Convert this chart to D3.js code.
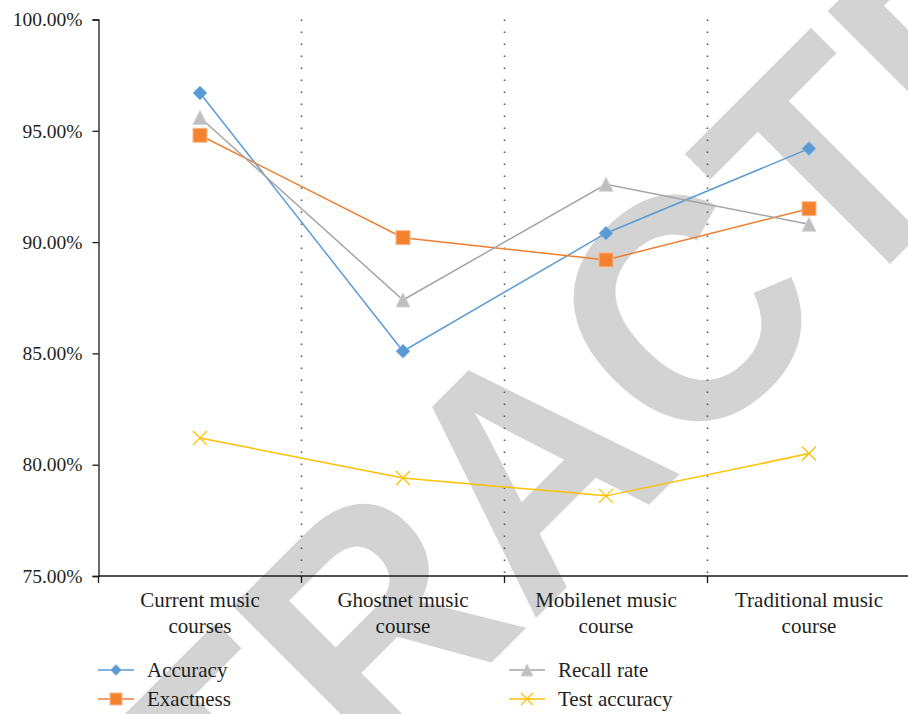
<!DOCTYPE html>
<html>
<head>
<meta charset="utf-8">
<script src="https://cdn.jsdelivr.net/npm/d3@7"></script>
<style>
  html, body { margin: 0; padding: 0; background: #fff; }
  svg { display: block; }
  text { font-family: "Liberation Serif", "Times New Roman", serif; fill: #231f20; }
</style>
</head>
<body>
<svg id="chart" width="908" height="714"></svg>
<script>
// Course categories (two-line labels)
const categories = [
  ["Current music", "courses"],
  ["Ghostnet music", "course"],
  ["Mobilenet music", "course"],
  ["Traditional music", "course"]
];
const categoryKeys = categories.map(c => c.join(" "));

// Series values (percent)
const accuracy     = [96.7, 85.1, 90.4, 94.2];
const exactness    = [94.8, 90.2, 89.2, 91.5];
const recallRate   = [95.6, 87.4, 92.6, 90.8];
const testAccuracy = [81.2, 79.4, 78.6, 80.5];

// Y axis ticks
const yTicks = [75, 80, 85, 90, 95, 100];

const seriesNames = ["Accuracy", "Exactness", "Recall rate", "Test accuracy"];
const seriesValues = [accuracy, exactness, recallRate, testAccuracy];

const styles = {
  "Accuracy":      { line: "#5b9bd5", fill: "#5b9bd5", stroke: "#8fbbe3", marker: "diamond" },
  "Exactness":     { line: "#ed7d31", fill: "#f5822f", stroke: "#f9b88e", marker: "square" },
  "Recall rate":   { line: "#a5a5a5", fill: "#bfbfbf", stroke: "#d0d0d0", marker: "triangle" },
  "Test accuracy": { line: "#ffc000", fill: "none",    stroke: "#ffc000", marker: "cross" }
};

const svg = d3.select("#chart");

// Watermark sits behind the plot
svg.append("text")
  .attr("transform", "translate(608,546) rotate(-45) scale(0.935,1)")
  .attr("text-anchor", "middle")
  .style("font-family", "'Liberation Sans', Arial, sans-serif")
  .style("font-weight", "bold")
  .style("font-size", "324px")
  .style("fill", "#d3d3d3")
  .text("RETRACTED");

const plot = { left: 98.5, right: 910.5, top: 19.5, bottom: 576 };

const x = d3.scaleBand().domain(categoryKeys).range([plot.left, plot.right]).padding(0);
const y = d3.scaleLinear().domain([75, 100]).range([plot.bottom, plot.top]);

// Dotted separators between categories
const boundaries = categoryKeys.slice(1).map(k => x(k));
svg.append("g").selectAll("line")
  .data(boundaries)
  .join("line")
  .attr("x1", d => d).attr("x2", d => d)
  .attr("y1", plot.top).attr("y2", plot.bottom)
  .attr("stroke", "#595959")
  .attr("stroke-width", 1.6)
  .attr("stroke-dasharray", "1.6,10.4");

// Y axis
const yAxis = d3.axisLeft(y)
  .tickValues(yTicks)
  .tickSize(6)
  .tickPadding(10)
  .tickFormat(d => d.toFixed(2) + "%");
const gy = svg.append("g").attr("transform", `translate(${plot.left},0)`).call(yAxis);
gy.select(".domain").attr("stroke", "#1a1a1a").attr("stroke-width", 1.3);
gy.selectAll(".tick line").attr("stroke", "#1a1a1a").attr("stroke-width", 1.3);
gy.selectAll(".tick text")
  .style("font-family", "'Liberation Serif', serif")
  .style("font-size", "19.5px")
  .attr("fill", "#231f20");

// X axis: ticks on category boundaries
const xBoundaryTicks = categoryKeys.map(k => x(k)).concat([plot.right]);
const gx = svg.append("g").attr("transform", `translate(0,${plot.bottom})`);
gx.append("line")
  .attr("x1", plot.left).attr("x2", plot.right)
  .attr("y1", 0).attr("y2", 0)
  .attr("stroke", "#1a1a1a").attr("stroke-width", 1.3);
gx.selectAll(".btick")
  .data(xBoundaryTicks)
  .join("line")
  .attr("class", "btick")
  .attr("x1", d => d).attr("x2", d => d)
  .attr("y1", 0).attr("y2", 7)
  .attr("stroke", "#1a1a1a").attr("stroke-width", 1.3);

const labels = gx.selectAll(".clabel")
  .data(categories)
  .join("text")
  .attr("class", "clabel")
  .attr("text-anchor", "middle")
  .style("font-size", "21px")
  .attr("transform", (d, i) => `translate(${x(categoryKeys[i]) + x.bandwidth() / 2},0)`);
labels.selectAll("tspan")
  .data(d => d)
  .join("tspan")
  .attr("x", 0)
  .attr("y", (d, j) => 31 + j * 26)
  .text(d => d);

// Marker drawing
function drawMarker(g, type, size, st) {
  const h = size / 2;
  if (type === "diamond") {
    g.append("path").attr("d", `M0,${-h}L${h},0L0,${h}L${-h},0Z`)
      .attr("fill", st.fill).attr("stroke", st.stroke).attr("stroke-width", 0.8);
  } else if (type === "square") {
    g.append("rect").attr("x", -h).attr("y", -h).attr("width", size).attr("height", size)
      .attr("fill", st.fill).attr("stroke", st.stroke).attr("stroke-width", 1);
  } else if (type === "triangle") {
    g.append("path").attr("d", `M0,${-h}L${h},${h}L${-h},${h}Z`)
      .attr("fill", st.fill).attr("stroke", st.stroke).attr("stroke-width", 0.8);
  } else if (type === "cross") {
    g.append("path").attr("d", `M${-h},${-h}L${h},${h}M${h},${-h}L${-h},${h}`)
      .attr("fill", "none").attr("stroke", st.stroke).attr("stroke-width", 1.3);
  }
}

const line = d3.line()
  .x((d, i) => x(categoryKeys[i]) + x.bandwidth() / 2)
  .y(d => y(d));

// Series lines and markers
seriesNames.forEach((name, si) => {
  const st = styles[name];
  const vals = seriesValues[si];
  const g = svg.append("g");
  g.append("path")
    .datum(vals)
    .attr("d", line)
    .attr("fill", "none")
    .attr("stroke", st.line)
    .attr("stroke-width", 1.5);
  vals.forEach((v, i) => {
    const m = g.append("g")
      .attr("transform", `translate(${x(categoryKeys[i]) + x.bandwidth() / 2},${y(v)})`);
    drawMarker(m, st.marker, 14, st);
  });
});

// Legend (two columns)
const legendPos = [
  { x: 98, y: 670 },
  { x: 98, y: 699 },
  { x: 509, y: 670 },
  { x: 509, y: 699 }
];
seriesNames.forEach((name, si) => {
  const st = styles[name];
  const p = legendPos[si];
  const g = svg.append("g").attr("transform", `translate(${p.x},${p.y})`);
  g.append("line").attr("x1", 0).attr("x2", 36).attr("y1", 0).attr("y2", 0)
    .attr("stroke", st.line).attr("stroke-width", 1.5);
  const m = g.append("g").attr("transform", "translate(18,0)");
  drawMarker(m, st.marker, name === "Accuracy" ? 11 : 12, st);
  g.append("text").attr("x", 49).attr("y", 7)
    .style("font-size", "21px")
    .text(name);
});
</script>
</body>
</html>
